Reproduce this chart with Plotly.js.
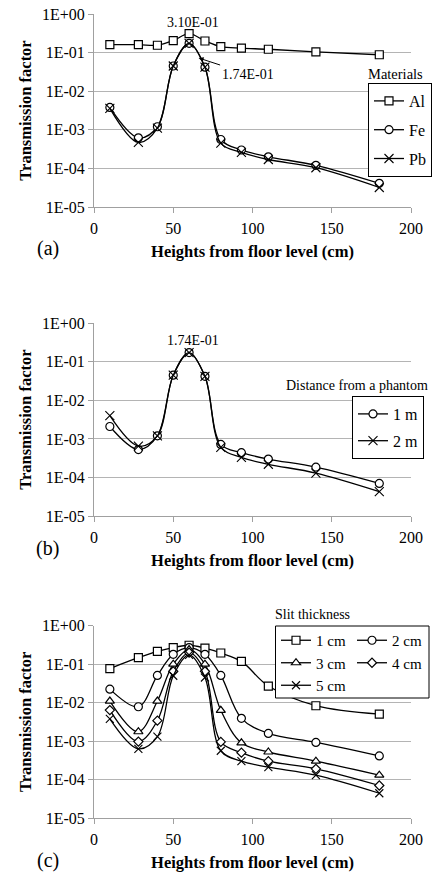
<!DOCTYPE html>
<html><head><meta charset="utf-8">
<script src="https://cdn.plot.ly/plotly-3.0.1.min.js"></script>
<style>html,body{margin:0;padding:0;background:#fff}</style>
</head><body><div id="chart" style="width:432px;height:875px"></div>
<script>
// ---- data ----
const heights = [10, 28, 40, 50, 60, 70, 80, 93, 110, 140, 180];
const tickVals = [1e-5, 1e-4, 1e-3, 1e-2, 1e-1, 1];
const tickText = ["1E-05", "1E-04", "1E-03", "1E-02", "1E-01", "1E+00"];

// (a) materials
const matNames = ["Al", "Fe", "Pb"];
const matAl = [0.16, 0.16, 0.155, 0.205, 0.31, 0.2, 0.142, 0.13, 0.122, 0.104, 0.088];
const matFe = [3.8e-3, 6.2e-4, 1.2e-3, 0.045, 0.174, 0.042, 5.6e-4, 3.0e-4, 2.0e-4, 1.2e-4, 4.1e-5];
const matPb = [3.6e-3, 4.7e-4, 1.1e-3, 0.045, 0.174, 0.042, 4.5e-4, 2.6e-4, 1.7e-4, 1.04e-4, 3.2e-5];

// (b) distance from a phantom
const distNames = ["1 m", "2 m"];
const dist1m = [2.1e-3, 5.3e-4, 1.2e-3, 0.045, 0.174, 0.042, 7.2e-4, 4.4e-4, 3.0e-4, 1.85e-4, 7.0e-5];
const dist2m = [4.0e-3, 6.5e-4, 1.2e-3, 0.045, 0.174, 0.042, 6.0e-4, 3.3e-4, 2.2e-4, 1.3e-4, 4.3e-5];

// (c) slit thickness
const slitNames = ["1 cm", "2 cm", "3 cm", "4 cm", "5 cm"];
const slit1 = [0.077, 0.147, 0.215, 0.27, 0.31, 0.26, 0.195, 0.118, 0.027, 8.3e-3, 5.0e-3];
const slit2 = [0.0224, 7.8e-3, 0.051, 0.18, 0.27, 0.18, 0.051, 3.9e-3, 1.58e-3, 9.2e-4, 4.1e-4];
const slit3 = [0.011, 1.75e-3, 0.011, 0.1, 0.24, 0.1, 6.3e-3, 9.0e-4, 5.2e-4, 3.0e-4, 1.3e-4];
const slit4 = [6.4e-3, 9.7e-4, 3.4e-3, 0.065, 0.2, 0.065, 9.5e-4, 5.0e-4, 3.0e-4, 1.9e-4, 7.0e-5];
const slit5 = [3.8e-3, 6.3e-4, 1.3e-3, 0.05, 0.174, 0.045, 5.6e-4, 3.0e-4, 2.1e-4, 1.3e-4, 4.4e-5];

// ---- styling ----
const FONT = "Liberation Serif";
const LW = 1.3;
function series(y, name, sym, size, xa, ya, leg, grp) {
  const open = sym.indexOf('x-thin') === 0;
  return {
    x: heights, y: y, name: name, type: 'scatter', mode: 'lines+markers',
    xaxis: xa, yaxis: ya, legend: leg, legendgroup: grp,
    line: {color: '#000', width: LW, shape: 'spline', smoothing: 1},
    marker: open ? {symbol: 'x-thin-open', size: size, color: '#000', line: {color: '#000', width: 1.1}}
                 : {symbol: sym, size: size, color: '#fff', line: {color: '#000', width: 1.2}},
    cliponaxis: false, hoverinfo: 'skip'
  };
}
const traces = [
  series(matAl, matNames[0], 'square', 8, 'x', 'y', 'legend', 'a1'),
  series(matFe, matNames[1], 'circle', 8, 'x', 'y', 'legend', 'a2'),
  series(matPb, matNames[2], 'x-thin', 9, 'x', 'y', 'legend', 'a3'),
  series(dist1m, distNames[0], 'circle', 8, 'x2', 'y2', 'legend2', 'b1'),
  series(dist2m, distNames[1], 'x-thin', 9, 'x2', 'y2', 'legend2', 'b2'),
  series(slit1, slitNames[0], 'square', 8, 'x3', 'y3', 'legend3', 'c1'),
  series(slit2, slitNames[1], 'circle', 8, 'x3', 'y3', 'legend4', 'c2'),
  series(slit3, slitNames[2], 'triangle-up', 8, 'x3', 'y3', 'legend3', 'c3'),
  series(slit4, slitNames[3], 'diamond', 7, 'x3', 'y3', 'legend4', 'c4'),
  series(slit5, slitNames[4], 'x-thin', 8, 'x3', 'y3', 'legend3', 'c5')
];

const GRID = '#b4b4b4', AXL = '#a0a0a0';
function yax(domain, anchor) {
  return {
    domain: domain, anchor: anchor, type: 'log', range: [-5, 0],
    tickvals: tickVals, ticktext: tickText, showgrid: true, gridcolor: GRID, gridwidth: 1,
    showline: true, linecolor: AXL, linewidth: 1, ticks: 'outside', ticklen: 5, tickcolor: AXL,
    zeroline: false, tickfont: {family: FONT, size: 16, color: '#000'},
    title: {text: 'Transmission factor', font: {family: FONT, size: 16.5, color: '#000', weight: 'bold'}, standoff: 6}
  };
}
function xax(anchor) {
  return {
    anchor: anchor, domain: [0, 1], range: [0, 200], tickvals: [0, 50, 100, 150, 200],
    showgrid: false, showline: true, linecolor: AXL, linewidth: 1, ticks: 'outside', ticklen: 5, tickcolor: AXL,
    zeroline: false, tickfont: {family: FONT, size: 16, color: '#000'}, ticklabelstandoff: 2,
    title: {text: 'Heights from floor level (cm)', font: {family: FONT, size: 16.5, color: '#000', weight: 'bold'}, standoff: 9}
  };
}
// plot area: l=94, r=21, t=14, b=57 -> 317 x 804
const W = 317, H = 804, L = 94, T = 14;
const px = v => (v - L) / W;
const py = v => 1 - (v - T) / H;

const legBase = {font: {family: FONT, size: 16, color: '#000'}, bgcolor: '#fff', bordercolor: '#000', borderwidth: 1,
  xanchor: 'left', yanchor: 'top', itemclick: false, itemdoubleclick: false};

function label(x, y, text, size) {
  return {xref: 'paper', yref: 'paper', x: px(x), y: py(y), text: text, showarrow: false,
          xanchor: 'center', yanchor: 'middle', font: {family: FONT, size: size, color: '#000'}};
}

const layout = {
  width: 432, height: 875, paper_bgcolor: '#fff', plot_bgcolor: '#fff',
  margin: {l: L, r: 21, t: T, b: 57, autoexpand: false},
  font: {family: FONT, color: '#000'},
  showlegend: true,
  xaxis: xax('y'), xaxis2: xax('y2'), xaxis3: xax('y3'),
  yaxis: yax([py(207), 1], 'x'),
  yaxis2: yax([py(516), py(323.3)], 'x2'),
  yaxis3: yax([0, py(625.7)], 'x3'),
  legend: Object.assign({}, legBase, {x: px(368), y: py(83), tracegroupgap: 5}),
  legend2: Object.assign({}, legBase, {x: px(352), y: py(396), tracegroupgap: 3}),
  legend3: Object.assign({}, legBase, {x: px(276), y: py(624), bgcolor: 'rgba(0,0,0,0)', borderwidth: 0, tracegroupgap: 0, font: {family: FONT, size: 15, color: '#000'}}),
  legend4: Object.assign({}, legBase, {x: px(352), y: py(624), bgcolor: 'rgba(0,0,0,0)', borderwidth: 0, tracegroupgap: 0, font: {family: FONT, size: 15, color: '#000'}}),
  shapes: [
    {type: 'rect', xref: 'paper', yref: 'paper', x0: px(275.5), x1: px(429), y0: py(698), y1: py(626),
     fillcolor: '#fff', line: {color: '#000', width: 1}, layer: 'above'}
  ],
  annotations: [
    label(395, 74, 'Materials', 14.5),
    label(357, 385, 'Distance from a phantom', 14),
    label(312, 614, 'Slit thickness', 14),
    {xref: 'x', yref: 'y', x: heights[4], y: Math.log10(matAl[4]), text: '3.10E-01', showarrow: false, yanchor: 'bottom', yshift: 2, xshift: 4, font: {family: FONT, size: 14, color: '#000'}},
    {xref: 'x', yref: 'y', x: 66, y: -1.14, text: '1.74E-01', showarrow: true, arrowhead: 2, arrowsize: 1, arrowwidth: 1, arrowcolor: '#000', ax: 49, ay: 16, font: {family: FONT, size: 14, color: '#000'}},
    {xref: 'x2', yref: 'y2', x: heights[4], y: Math.log10(dist1m[4]), text: '1.74E-01', showarrow: false, yanchor: 'bottom', yshift: 3, xshift: 4, font: {family: FONT, size: 14, color: '#000'}},
    label(48, 248, '(a)', 20),
    label(48, 548, '(b)', 20),
    label(48, 860, '(c)', 20)
  ]
};
Plotly.newPlot('chart', traces, layout, {staticPlot: true, displayModeBar: false});
</script></body></html>
